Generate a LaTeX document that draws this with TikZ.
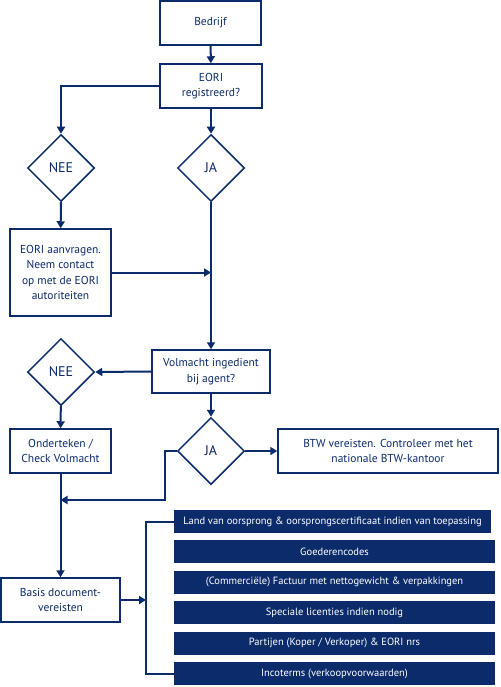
\documentclass[tikz,border=0pt]{standalone}
\usepackage{fontspec}
\setmainfont{PT Sans}
\usetikzlibrary{shapes.geometric,arrows.meta}
\definecolor{navy}{HTML}{0B2B6B}
\begin{document}
\begin{tikzpicture}[x=1pt,y=-1pt,
  every node/.style={font=\fontsize{11.5}{15.5}\selectfont, text=navy, align=center, inner sep=0pt},
  box/.style={draw=navy, line width=1.5pt, fill=white, minimum width=#1},
  box/.default=101pt,
  dia/.style={diamond, draw=navy, line width=1.5pt, fill=white, minimum width=67pt, minimum height=67pt, font=\fontsize{14}{16}\selectfont},
  item/.style={fill=navy, text=white, minimum width=321pt, minimum height=23pt, font=\fontsize{10.5}{12}\selectfont},
  conn/.style={draw=navy, line width=2pt},
  arr/.style={conn, -{Triangle[length=7pt,width=8pt]}},
]
\useasboundingbox (0,0) rectangle (500,687);
\node[box, minimum height=44pt] (bedrijf) at (210.5,23) {Bedrijf};
\node[box=102pt, minimum height=44pt] (eori) at (211,86) {EORI\\registreerd?};
\node[dia] (nee1) at (61,168) {NEE};
\node[dia] (ja1) at (211,168) {JA};
\node[box, minimum height=87pt] (aanv) at (60.5,272.5) {EORI aanvragen.\\Neem contact\\op met de EORI\\autoriteiten};
\node[box=118pt, minimum height=43pt] (volm) at (211,371.5) {Volmacht ingedient\\bij agent?};
\node[dia] (nee2) at (61,372) {NEE};
\node[box, minimum height=44pt] (onder) at (60.5,451) {Onderteken /\\Check Volmacht};
\node[dia] (ja2) at (211,451) {JA};
\node[box=220pt, minimum height=44pt] (btw) at (388,451) {BTW vereisten. Controleer met het\\nationale BTW-kantoor};
\node[box=119pt, minimum height=44pt] (basis) at (60.5,600) {Basis document-\\vereisten};
\node[item, minimum width=317pt] (l1) at (332.5,521.5) {Land van oorsprong \& oorsprongscertificaat indien van toepassing};
\node[item] (l2) at (334.5,551.5) {Goederencodes};
\node[item] (l3) at (334.5,582) {(Commerciële) Factuur met nettogewicht \& verpakkingen};
\node[item] (l4) at (334.5,612.5) {Speciale licenties indien nodig};
\node[item] (l5) at (334.5,643) {Partijen (Koper / Verkoper) \& EORI nrs};
\node[item] (l6) at (334.5,673.5) {Incoterms (verkoopvoorwaarden)};
\coordinate (jc) at (165,500);
\coordinate (br) at (146,600);
% connectors
\draw[arr] (bedrijf) -- (eori);
\draw[arr] (eori.west) -| (nee1.north);
\draw[arr] (eori) -- (ja1);
\draw[arr] (nee1) -- (aanv);
\draw[arr] (ja1.south) -- (volm.north);
\draw[arr] (aanv.east) -- (ja1.south |- aanv.east);
\draw[arr] (volm.west) -- (nee2.east);
\draw[arr] (nee2) -- (onder);
\draw[arr] (volm) -- (ja2);
\draw[arr] (ja2) -- (btw);
\draw[arr] (ja2.west) -| (jc) -- (onder.south |- jc);
\draw[arr] (onder) -- (basis);
\draw[arr] (basis.east) -- (br);
\draw[conn] (l1.west) -| (br) |- (l6.west);
\end{tikzpicture}
\end{document}
